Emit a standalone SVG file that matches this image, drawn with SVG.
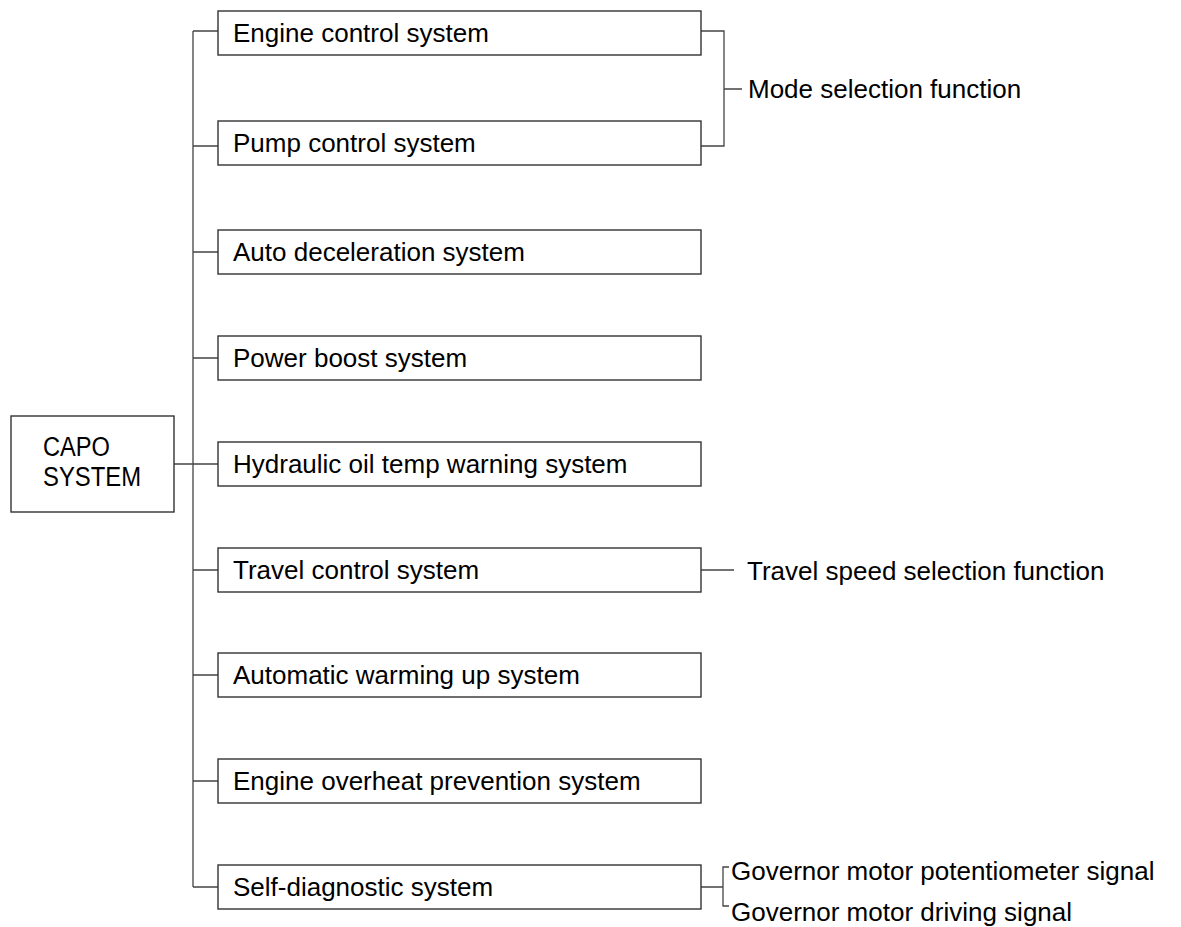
<svg xmlns="http://www.w3.org/2000/svg" width="1181" height="927" viewBox="0 0 1181 927">
<style>
.box{fill:#fff;stroke:#333;stroke-width:1.4}
.ln{fill:none;stroke:#444;stroke-width:1.3}
text{font-family:"Liberation Sans",Arial,sans-serif;font-size:26px;fill:#000}
.capo{font-size:27px}
</style>
<rect width="1181" height="927" fill="#fff"/>
<g id="connectors">
<path class="ln" d="M193 31V887M193 31H218M193 146H218M193 252H218M193 358H218M174 464H218M193 570H218M193 675H218M193 781H218M193 887H218"/>
<path class="ln" d="M701 31H724V146H701M724 89H742"/>
<path class="ln" d="M701 570H734"/>
<path class="ln" d="M701 887H723M729 867H723V906H729"/>
</g>
<g id="capo"><rect class="box" x="11" y="416" width="163" height="96"/><text class="capo" x="43" y="456" textLength="67" lengthAdjust="spacingAndGlyphs">CAPO</text><text class="capo" x="43" y="486" textLength="98" lengthAdjust="spacingAndGlyphs">SYSTEM</text></g>
<g id="engine"><rect class="box" x="218" y="11" width="483" height="44"/><text x="233" y="42">Engine control system</text></g>
<g id="pump"><rect class="box" x="218" y="121" width="483" height="44"/><text x="233" y="152">Pump control system</text></g>
<g id="autodecel"><rect class="box" x="218" y="230" width="483" height="44"/><text x="233" y="261">Auto deceleration system</text></g>
<g id="powerboost"><rect class="box" x="218" y="336" width="483" height="44"/><text x="233" y="367">Power boost system</text></g>
<g id="hydraulic"><rect class="box" x="218" y="442" width="483" height="44"/><text x="233" y="473">Hydraulic oil temp warning system</text></g>
<g id="travel"><rect class="box" x="218" y="548" width="483" height="44"/><text x="233" y="579">Travel control system</text></g>
<g id="warming"><rect class="box" x="218" y="653" width="483" height="44"/><text x="233" y="684">Automatic warming up system</text></g>
<g id="overheat"><rect class="box" x="218" y="759" width="483" height="44"/><text x="233" y="790">Engine overheat prevention system</text></g>
<g id="selfdiag"><rect class="box" x="218" y="865" width="483" height="44"/><text x="233" y="896">Self-diagnostic system</text></g>
<g id="mode"><text x="748" y="98">Mode selection function</text></g>
<g id="travelspeed"><text x="747" y="580">Travel speed selection function</text></g>
<g id="govpot"><text x="731" y="880">Governor motor potentiometer signal</text></g>
<g id="govdrive"><text x="731" y="921">Governor motor driving signal</text></g>
</svg>
